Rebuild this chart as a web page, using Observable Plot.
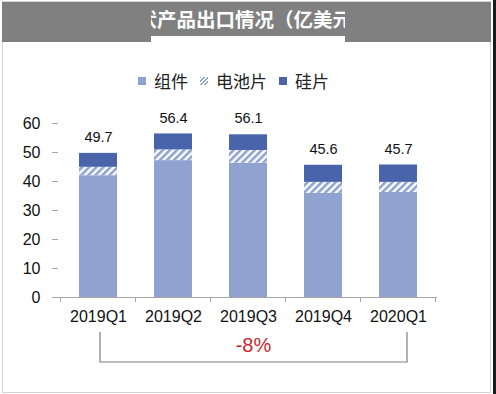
<!DOCTYPE html>
<html><head><meta charset="utf-8">
<script src="https://cdn.jsdelivr.net/npm/d3@7"></script>
<script src="https://cdn.jsdelivr.net/npm/@observablehq/plot@0.6"></script>
<style>
body{margin:0;background:#fff;}
#wrap{position:relative;width:496px;height:394px;overflow:hidden;font-family:"Liberation Sans",Arial,sans-serif;background:#fff;}
#chart{position:absolute;left:0;top:0;}
#frame{position:absolute;left:2px;top:1px;width:487px;height:390px;border:1px solid #d4d4d4;}
#edge{position:absolute;left:493px;top:0;width:3px;height:394px;background:#1a1a1a;}
#band{position:absolute;left:2px;top:2px;width:489px;height:40px;background:#808080;}
#titlebox{position:absolute;left:151px;top:2px;width:194px;height:40px;overflow:hidden;}
#titlebox .wb{position:absolute;left:0;top:34px;width:194px;height:6px;background:#fff;}
#titlebox .tx{position:absolute;left:-33px;top:5px;white-space:nowrap;color:#fff;font:bold 19.5px/24px "Noto Sans CJK SC",sans-serif;}
#legend{position:absolute;left:138px;top:71px;display:flex;align-items:center;gap:12px;font:17px/20px "Noto Sans CJK SC",sans-serif;color:#222;}
#legend .it{display:flex;align-items:center;}
#legend .sw{width:8px;height:8px;margin-right:8px;}
</style></head><body>
<div id="wrap">
  <div id="frame"></div>
  <div id="chart"></div>
  <div id="band"></div>
  <div id="titlebox"><div class="wb"></div><div class="tx"></div></div>
  <div id="legend"></div>
  <div id="edge"></div>
</div>
<script>
const quarters = ["2019Q1","2019Q2","2019Q3","2019Q4","2020Q1"];
const seriesNames = ["组件","电池片","硅片"];
const modules = [42.0, 47.2, 46.3, 35.9, 36.2];
const cells   = [2.9, 3.7, 4.4, 3.8, 3.5];
const wafers  = [4.8, 5.5, 5.4, 5.9, 6.0];
const totals  = [49.7, 56.4, 56.1, 45.6, 45.7];
const yTicks  = [0, 10, 20, 30, 40, 50, 60];
const changeLabel = "-8%";
const titleText = "光伏产品出口情况（亿美元）";

const seriesColors = ["#8FA2D0", "url(#hatch)", "#4A64AC"];
const rows = [];
quarters.forEach((q, i) => {
  [modules, cells, wafers].forEach((arr, j) => rows.push({q, s: seriesNames[j], v: arr[i]}));
});
const totalRows = quarters.map((q, i) => ({q, t: totals[i]}));

const plot = Plot.plot({
  width: 496, height: 394,
  marginLeft: 58, marginRight: 59, marginTop: 123, marginBottom: 97,
  style: {background: "transparent", fontFamily: "Liberation Sans, Arial, sans-serif", color: "#111"},
  x: {domain: quarters, paddingInner: 0.5, paddingOuter: 0.25, axis: null},
  y: {domain: [0, 60], axis: null},
  color: {domain: seriesNames, range: seriesColors},
  marks: [
    Plot.barY(rows, {x: "q", y: "v", fill: "s"}),
    Plot.ruleY([0], {stroke: "#a6a6a6"}),
    Plot.axisY({ticks: yTicks, tickSize: 6, tickPadding: 12, stroke: "#a6a6a6", fontSize: 16, label: null}),
    Plot.axisX({tickSize: 0, tickPadding: 13, fontSize: 16, label: null}),
    Plot.text(totalRows, {x: "q", y: "t", text: d => d.t.toFixed(1), dy: -16, fontSize: 14.5, fill: "#111"})
  ]
});
document.getElementById("chart").appendChild(plot);

const svg = d3.select(plot);
const defs = svg.insert("defs", ":first-child");
const pat = defs.append("pattern").attr("id", "hatch").attr("patternUnits", "userSpaceOnUse")
  .attr("width", 5).attr("height", 5).attr("patternTransform", "rotate(45)");
pat.append("rect").attr("width", 5).attr("height", 5).attr("fill", "#ffffff");
pat.append("rect").attr("width", 2.6).attr("height", 5).attr("fill", "#8FA2D0");

const xs = plot.scale("x"), ys = plot.scale("y");
const gap = (xs.step - xs.bandwidth) / 2;
const y0 = ys.apply(0);
const bounds = quarters.map(q => xs.apply(q) - gap).concat([xs.apply(quarters[quarters.length - 1]) + xs.bandwidth + gap]);
const g = svg.append("g");
g.selectAll("line.tk").data(bounds).join("line")
  .attr("x1", d => d).attr("x2", d => d).attr("y1", y0).attr("y2", y0 + 5)
  .attr("stroke", "#a6a6a6");

// bracket between first and last quarter
const xa = xs.apply(quarters[0]) + xs.bandwidth / 2 + 2;
const xb = xs.apply(quarters[quarters.length - 1]) + xs.bandwidth / 2 + 9;
g.append("path")
  .attr("d", `M${xa},${y0 + 35}V${y0 + 65}H${xb}V${y0 + 35}`)
  .attr("fill", "none").attr("stroke", "#7f7f7f").attr("stroke-width", 1.2);
g.append("text").attr("x", (xa + xb) / 2).attr("y", y0 + 48).attr("dy", "0.35em")
  .attr("text-anchor", "middle").attr("fill", "#C8262E").attr("font-size", 20)
  .attr("font-family", "Liberation Sans, Arial, sans-serif").text(changeLabel);

// title
document.querySelector("#titlebox .tx").textContent = titleText;

// legend
const swatchStyles = [
  "background:#8FA2D0",
  "background:repeating-linear-gradient(135deg,#8FA2D0 0 1.4px,#fff 1.4px 2.8px)",
  "background:#4A64AC"
];
const leg = document.getElementById("legend");
seriesNames.forEach((n, i) => {
  const it = document.createElement("div"); it.className = "it";
  it.innerHTML = `<span class="sw" style="${swatchStyles[i]}"></span><span>${n}</span>`;
  leg.appendChild(it);
});
</script>
</body></html>
